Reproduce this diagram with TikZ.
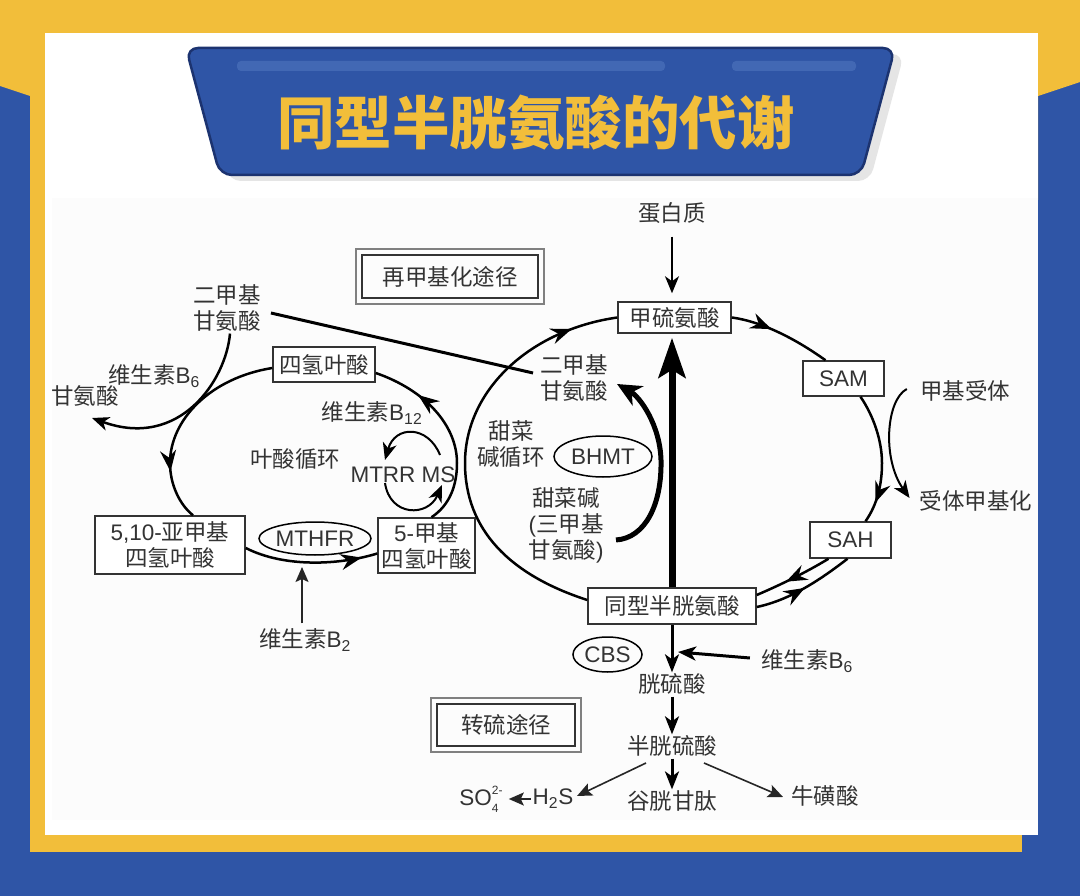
\documentclass[tikz,border=0pt]{standalone}
\usepackage{fontspec}
\setmainfont{Liberation Sans}
\newfontfamily\cjk{Noto Sans CJK SC}
\newcommand{\zh}[1]{{\cjk #1}}
\usetikzlibrary{positioning}
\usetikzlibrary{shapes.geometric, arrows.meta, fit}
\usetikzlibrary{decorations.markings}
\definecolor{bgblue}{HTML}{2F55A6}
\definecolor{bgyellow}{HTML}{F2BE3A}
\definecolor{bardark}{HTML}{1C3370}
\definecolor{barlight}{HTML}{4268B4}
\definecolor{inkgray}{HTML}{333333}
\tikzset{midarrow/.style={postaction={decorate,decoration={markings,
    mark=at position #1 with {\arrow{Stealth[length=21pt,width=16pt,inset=7pt]}}}}}}

\begin{document}
\begin{tikzpicture}[x=1pt, y=-1pt]
    \tikzstyle{label} = [text=inkgray, align=center, inner sep=2pt,
    font=\fontsize{22.5}{26}\selectfont]
    \tikzstyle{block} = [rectangle, draw=inkgray, line width=1.5pt, fill=white, text=inkgray,
    align=center, inner sep=0pt, font=\fontsize{22.5}{26}\selectfont]
    \tikzstyle{enzyme} = [ellipse, draw=black, line width=1.5pt, text=inkgray, inner sep=0pt,
    font=\fontsize{22.5}{26}\selectfont]
    \tikzstyle{frame} = [rectangle, draw=inkgray, line width=1.5pt, text=inkgray,
    font=\fontsize{22.5}{26}\selectfont]
    \tikzstyle{outer} = [rectangle, draw=gray, line width=1.6pt, inner sep=5.5pt]
    \tikzstyle{line} = [draw=black, line width=2pt, -{Stealth[length=17pt,width=14pt,inset=5pt]}]
    \tikzstyle{thin} = [draw=black!85, line width=1.6pt, -{Stealth[length=15pt,width=13pt,inset=3pt]}]
    \tikzstyle{cycle} = [draw=black, line width=2.5pt]
    \tikzstyle{thick} = [draw=black, line width=3pt, -{Stealth[length=18pt,width=14pt,inset=5pt]}]

    \useasboundingbox (0,0) rectangle (1080,896);
    \fill [bgblue] (0,0) rectangle (1080,896);
    \fill [bgyellow] (0,0) -- (1080,0) -- (1080,82) -- (1038,96) -- (1038,200) -- (30,200) -- (30,96) -- (0,86) -- cycle;
    \fill [bgyellow] (30,96) rectangle (1022,852);
    \fill [white] (45,33) rectangle (1038,835);
    \fill [black!1] (52,198) rectangle (1038,820);

    \fill [black!10, rounded corners=12pt] (195,54) -- (904,54) -- (870,181) -- (229,181) -- cycle;
    \draw [bardark, fill=bgblue, line width=2.5pt, rounded corners=12pt] (186,48) -- (895,48) -- (861,175) -- (220,175) -- cycle;
    \fill [barlight, rounded corners=4pt] (237,61) rectangle (665,71);
    \fill [barlight, rounded corners=4pt] (732,61) rectangle (856,71);
    \node [text=bgyellow, font=\fontsize{57.5}{60}\selectfont\cjk\bfseries] (title) at (536,123) {同型半胱氨酸的代谢};

    \node [label] (protein) at (672,213) {\zh{蛋白质}};
    \node [block, minimum width=113pt, minimum height=31pt] (met) at (674.5,317.5) {\zh{甲硫氨酸}};
    \node [block, minimum width=81pt, minimum height=35pt] (sam) at (843.5,378.5) {SAM};
    \node [block, minimum width=81pt, minimum height=36pt] (sah) at (850.5,540) {SAH};
    \node [block, minimum width=168pt, minimum height=36pt] (hcy) at (672,606) {\zh{同型半胱氨酸}};
    \node [block, minimum width=102pt, minimum height=35pt] (thf) at (324,364.5) {\zh{四氢叶酸}};
    \node [block, minimum width=150pt, minimum height=58pt] (mthf) at (170,545) {5,10-\zh{亚甲基}\\\zh{四氢叶酸}};
    \node [block, minimum width=97pt, minimum height=55pt] (methyl) at (426.5,545.5) {5-\zh{甲基}\\\zh{四氢叶酸}};
    \node [enzyme, minimum width=112pt, minimum height=33pt] (mthfr) at (315,538.5) {MTHFR};
    \node [enzyme, minimum width=98pt, minimum height=41pt] (bhmt) at (603,456.5) {BHMT};
    \node [enzyme, minimum width=69pt, minimum height=35pt] (cbs) at (607.5,654.5) {CBS};

    \node [frame, minimum width=176pt, minimum height=43pt] (remethyl) at (450,276.5) {\zh{再甲基化途径}};
    \node [outer, fit=(remethyl)] (remethylout) {};
    \node [frame, minimum width=138pt, minimum height=42pt] (transsulf) at (506,725) {\zh{转硫途径}};
    \node [outer, fit=(transsulf)] (transsulfout) {};

    \node [label] (dmgleft) at (227,308) {\zh{二甲基}\\\zh{甘氨酸}};
    \node [label] (dmgright) at (574,378) {\zh{二甲基}\\\zh{甘氨酸}};
    \node [label] (vitbsix) at (154,376) {\zh{维生素}B\textsubscript{6}};
    \node [label] (glycine) at (85,396) {\zh{甘氨酸}};
    \node [label] (vitbtw) at (372,413) {\zh{维生素}B\textsubscript{12}};
    \node [label] (folate) at (295,459) {\zh{叶酸循环}};
    \node [label] (mtrr) at (403,475) {MTRR MS};
    \node [label] (vitbtwo) at (305,640) {\zh{维生素}B\textsubscript{2}};
    \node [label] (betcycle) at (511,444) {\zh{甜菜}\\\zh{碱循环}};
    \node [label] (betaine) at (566,525) {\zh{甜菜碱}\\(\zh{三甲基}\\\zh{甘氨酸})};
    \node [label] (acceptor) at (965,391) {\zh{甲基受体}};
    \node [label] (acceptorme) at (976,501) {\zh{受体甲基化}};
    \node [label] (cysta) at (672,684) {\zh{胱硫酸}};
    \node [label] (vitbsixr) at (807,661) {\zh{维生素}B\textsubscript{6}};
    \node [label] (cysteine) at (672,746) {\zh{半胱硫酸}};
    \node [label] (gsh) at (672,801) {\zh{谷胱甘肽}};
    \node [label] (taurine) at (825,796) {\zh{牛磺酸}};
    \node [label] (hts) at (553,799) {H\textsubscript{2}S};
    \node [label] (sulfate) at (482,799) {SO\rlap{\raisebox{11pt}{\fontsize{12}{12}\selectfont 2-}}\raisebox{-7pt}{\fontsize{12}{12}\selectfont 4}\hspace{6pt}};

    \coordinate (betstart) at (616,540);
    \coordinate (bettip) at (617,384);
    \coordinate (btwotip) at (302,567);
    \coordinate (smallup) at (440,455);
    \coordinate (smalluptip) at (385,460);
    \coordinate (smalldown) at (385,483);
    \coordinate (smalldowntip) at (442,485);
    \coordinate (vitbtip) at (678,652);
    \coordinate (htstip) at (577,796);
    \coordinate (tautip) at (783,797);
    \coordinate (cysleft) at (646,763);
    \coordinate (cysright) at (704,763);

    \path [line] (protein.south) ++(0,11) -- ([xshift=-2.5pt,yshift=8pt]met.north);
    \path [cycle, midarrow=0.89] ([yshift=6pt]hcy.west) .. controls (510,575) and (465,530) .. (465,463) .. controls (465,390) and (530,330) .. (met.west);
    \path [cycle, midarrow=0.4] (met.east) .. controls (765,322) and (800,342) .. ([xshift=-18pt]sam.north);
    \path [cycle, midarrow=0.84] ([xshift=17pt]sam.south) .. controls (873,415) and (882,440) .. (882,463) .. controls (882,485) and (877,505) .. ([xshift=15pt]sah.north);
    \path [cycle, midarrow=0.6] ([xshift=-22pt]sah.south) .. controls (805,573) and (780,585) .. ([yshift=11pt]hcy.east);
    \path [cycle, midarrow=0.5] ([yshift=-1pt]hcy.east) .. controls (790,600) and (820,580) .. ([xshift=-3pt]sah.south);
    \path [draw=black, line width=7pt, -{Stealth[length=40pt,width=27pt,inset=8pt]}] (hcy.north) -- ([xshift=-2.5pt,yshift=-4pt]met.south);

    \path [draw=black, line width=5pt, -{Stealth[length=24pt,width=22pt,inset=7pt]}] (betstart) .. controls (645,538) and (662,505) .. (661,460) .. controls (660,425) and (640,397) .. (bettip);
    \path [draw=black, line width=3pt] ([xshift=8pt,yshift=-5pt]dmgleft.east) -- ([xshift=-5pt,yshift=5pt]dmgright.west);
    \path [line, line width=2.5pt] ([xshift=3pt]dmgleft.south) .. controls (226,380) and (180,450) .. (92,418);

    \path [cycle, midarrow=0.76] ([yshift=-3.5pt]thf.west) .. controls (210,378) and (170,420) .. (170,463) .. controls (170,485) and (180,505) .. ([xshift=23pt]mthf.north);
    \path [cycle, midarrow=0.88] ([yshift=-3pt]mthf.east) .. controls (285,568) and (340,565) .. ([yshift=-8pt]methyl.west);
    \path [cycle, midarrow=0.75] ([xshift=5pt]methyl.north) .. controls (450,505) and (457,485) .. (457,463) .. controls (457,425) and (425,390) .. ([yshift=-8.5pt]thf.east);

    \path [line] (smallup) .. controls (428,425) and (395,425) .. (smalluptip);
    \path [line] (smalldown) .. controls (390,517) and (428,517) .. (smalldowntip);

    \path [thin] (vitbtwo.north) ++(-3,-3) -- (btwotip);
    \path [line] ([xshift=-11pt,yshift=2pt]acceptor.west) .. controls (886,400) and (882,459) .. ([xshift=-8pt,yshift=3pt]acceptorme.west);

    \path [thick] (hcy.south) -- ([yshift=-1pt]cysta.north);
    \path [thick] ([xshift=-9pt,yshift=3pt]vitbsixr.west) -- (vitbtip);
    \path [thick] (cysta.south) -- ([yshift=-1pt]cysteine.north);
    \path [thick] (cysteine.south) -- ([yshift=-1pt]gsh.north);
    \path [thin] (cysleft) -- (htstip);
    \path [thin] (cysright) -- (tautip);
    \path [thin] (hts.west) -- ([xshift=2pt]sulfate.east);
\end{tikzpicture}
\end{document}
